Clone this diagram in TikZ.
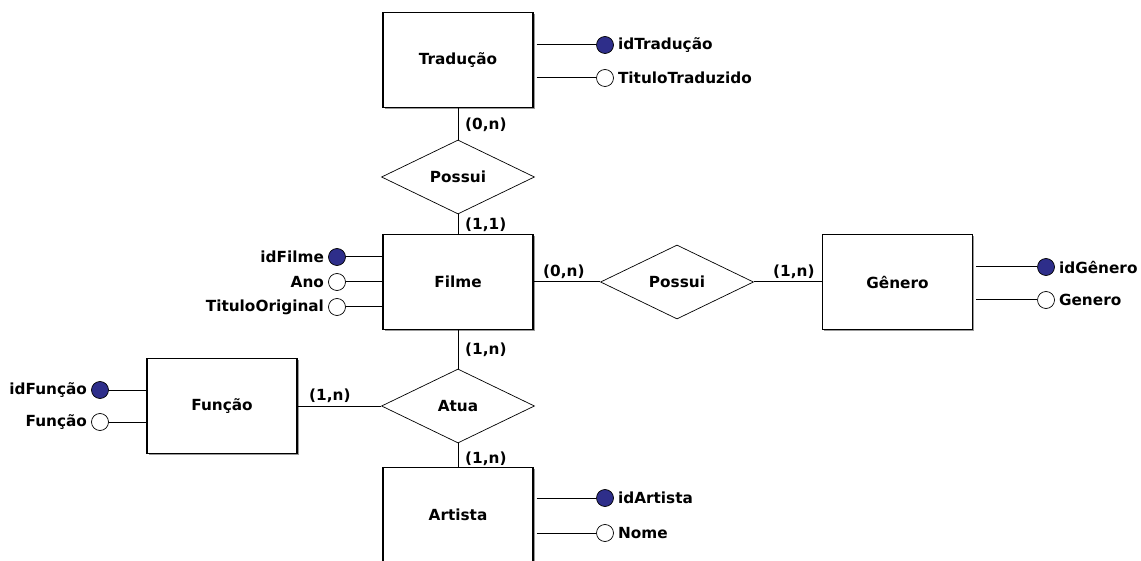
\documentclass[tikz,border=0pt]{standalone}
\usepackage{fontspec}
\setmainfont{DejaVu Sans}
\usetikzlibrary{shapes.geometric,shadows}

\definecolor{keyblue}{RGB}{46,46,138}

\tikzset{
  txt/.style={font=\bfseries\fontsize{15.3}{17}\selectfont,inner sep=1pt},
  entity/.style={rectangle,draw=black,line width=1.1pt,fill=white,
    minimum width=150pt,minimum height=95pt,
    drop shadow={shadow xshift=1.5pt,shadow yshift=-1.5pt,fill=black!40,opacity=1}},
  rel/.style={diamond,draw=black,line width=0.7pt,fill=white,aspect=2,
    minimum width=153pt,minimum height=74pt},
  keyattr/.style={circle,draw=black,line width=0.7pt,fill=keyblue,minimum size=17pt,inner sep=0pt},
  attr/.style={circle,draw=black,line width=0.7pt,fill=white,minimum size=17pt,inner sep=0pt},
  conn/.style={draw=black,line width=1pt},
}

\begin{document}
\begin{tikzpicture}[x=1pt,y=-1pt]

\useasboundingbox (0,0) rectangle (1141,561);
\clip (0,0) rectangle (1141,561);

% entidades
\node [entity,txt] (trad)    at (458,60)    {Tradução};
\node [entity,txt] (filme)   at (458,282)   {Filme};
\node [entity,txt] (genero)  at (897.5,282) {Gênero};
\node [entity,txt] (funcao)  at (222,406)   {Função};
\node [entity,txt] (artista) at (458,515)   {Artista};

% relacionamentos
\node [rel,txt] (possui1) at (458,177) {Possui};
\node [rel,txt] (possui2) at (677,282) {Possui};
\node [rel,txt] (atua)    at (458,406) {Atua};

\draw [conn] (trad) -- (possui1) -- (filme);
\draw [conn] (filme) -- (possui2) -- (genero);
\draw [conn] (filme) -- (atua) -- (artista);
\draw [conn] (funcao) -- (atua);

% cardinalidades
\node [txt,anchor=west] (c1) at (464,125) {(0,n)};
\node [txt,anchor=west] (c2) at (464,225) {(1,1)};
\node [txt,anchor=west] (c3) at (542,272) {(0,n)};
\node [txt,anchor=west] (c4) at (772,272) {(1,n)};
\node [txt,anchor=west] (c5) at (464,350) {(1,n)};
\node [txt,anchor=west] (c6) at (308,396) {(1,n)};
\node [txt,anchor=west] (c7) at (464,459) {(1,n)};

% atributos
\node [keyattr] (idtrad)   at (605,45)   {};
\node [attr]    (tittrad)  at (605,78)   {};
\node [keyattr] (idfilme)  at (337,257)  {};
\node [attr]    (ano)      at (337,282)  {};
\node [attr]    (titorig)  at (337,307)  {};
\node [keyattr] (idgenero) at (1046,267) {};
\node [attr]    (nomegen)  at (1046,300) {};
\node [keyattr] (idfuncao) at (100,390)  {};
\node [attr]    (nomefunc) at (100,422)  {};
\node [keyattr] (idart)    at (605,498)  {};
\node [attr]    (nomeart)  at (605,533)  {};

\foreach \a/\e in {idtrad/trad,tittrad/trad,idgenero/genero,nomegen/genero,idart/artista,nomeart/artista} {
\draw [conn,shorten <=3pt] (\e.east |- \a) -- (\a.west);
}
\foreach \a/\e in {idfilme/filme,ano/filme,titorig/filme,idfuncao/funcao,nomefunc/funcao} {
\draw [conn] (\e.west |- \a) -- (\a.east);
}

\node [txt,anchor=west] (lidtrad)   at ([xshift=3pt]idtrad.east)    {idTradução};
\node [txt,anchor=west] (ltittrad)  at ([xshift=3pt]tittrad.east)   {TituloTraduzido};
\node [txt,anchor=east] (lidfilme)  at ([xshift=-3pt]idfilme.west)  {idFilme};
\node [txt,anchor=east] (lano)      at ([xshift=-3pt]ano.west)      {Ano};
\node [txt,anchor=east] (ltitorig)  at ([xshift=-3pt]titorig.west)  {TituloOriginal};
\node [txt,anchor=west] (lidgenero) at ([xshift=3pt]idgenero.east)  {idGênero};
\node [txt,anchor=west] (lnomegen)  at ([xshift=3pt]nomegen.east)   {Genero};
\node [txt,anchor=east] (lidfuncao) at ([xshift=-3pt]idfuncao.west) {idFunção};
\node [txt,anchor=east] (lnomefunc) at ([xshift=-3pt]nomefunc.west) {Função};
\node [txt,anchor=west] (lidart)    at ([xshift=3pt]idart.east)     {idArtista};
\node [txt,anchor=west] (lnomeart)  at ([xshift=3pt]nomeart.east)   {Nome};

\end{tikzpicture}
\end{document}
